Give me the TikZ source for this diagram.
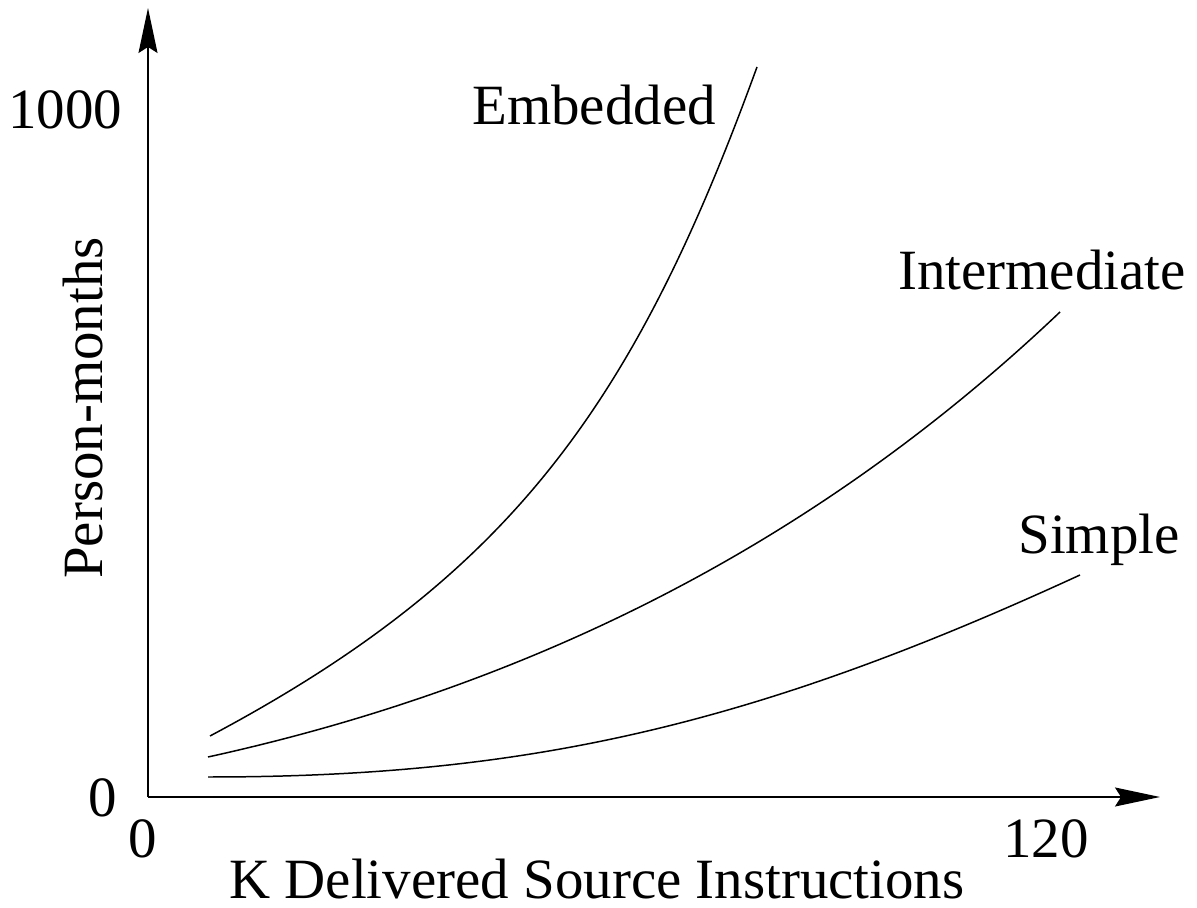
\documentclass[tikz,border=0pt]{standalone}
\usepackage{fontspec}
\setmainfont{Liberation Serif}
\usetikzlibrary{arrows.meta}
\tikzset{
  axis/.style={line width=0.85pt, -{Stealth[length=0.9cm, width=0.38cm, inset=0.12cm]}},
  curve/.style={line width=0.85pt},
  lbl/.style={anchor=base, inner sep=0pt, font=\fontsize{32.4}{38}\selectfont}
}
\begin{document}
\begin{tikzpicture}[x=0.02cm, y=-0.02cm]
\useasboundingbox (0,0) rectangle (1197,908);
\coordinate (O) at (148,797);
\coordinate (Ytip) at (148,8);
\coordinate (Xtip) at (1160,797);
\draw[axis] (O) -- (Ytip);
\draw[axis] (O) -- (Xtip);
% curve end points
\coordinate (e0) at (210,736);
\coordinate (e1) at (757,67);
\coordinate (i0) at (208,757);
\coordinate (i1) at (1060,312);
\coordinate (s0) at (208,777);
\coordinate (s1) at (1080,575);
% curves
\draw[curve] (e0) .. controls (511,576) and (634,405) .. (e1);
\draw[curve] (i0) .. controls (542.5,683.5) and (823.6,536.6) .. (i1);
\draw[curve] (s0) .. controls (528,777) and (753,725.5) .. (s1);
% labels
\node[lbl] (y1000) at (65,129) {1000};
\node[lbl] (y0) at (103,816) {0};
\node[lbl] (x0) at (143,857) {0};
\node[lbl] (x120) at (1046,857) {120};
\node[lbl] (xlab) at (597,898) {K Delivered Source Instructions};
\node[lbl, rotate=90] (ylab) at (102,408) {Person-months};
\node[lbl] (emb) at (594,125) {Embedded};
\node[lbl] (inter) at (1042,290) {Intermediate};
\node[lbl] (simp) at (1099,554) {Simple};
\end{tikzpicture}
\end{document}
